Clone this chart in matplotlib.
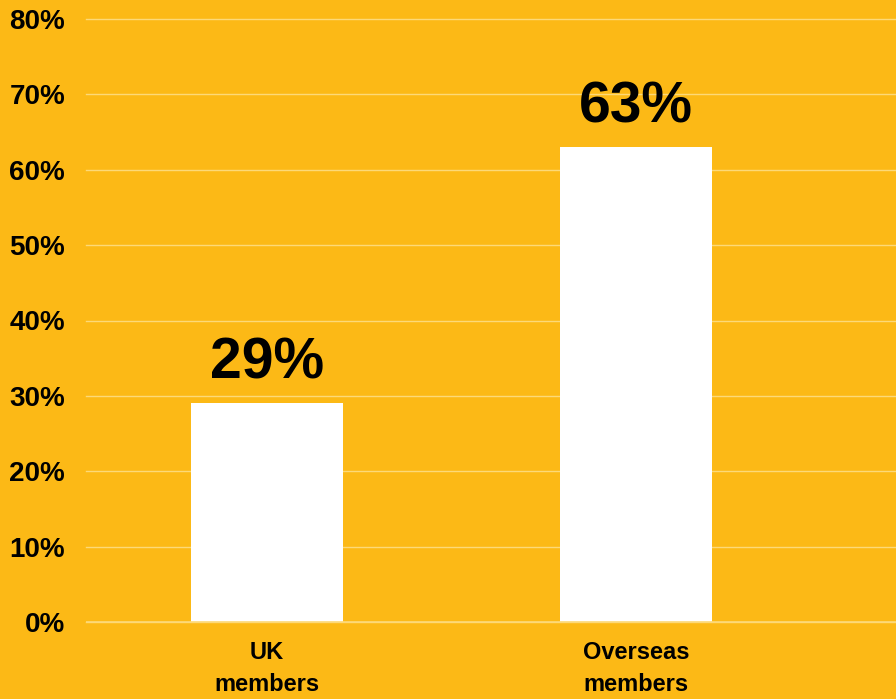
import matplotlib.pyplot as plt
from matplotlib.ticker import FuncFormatter

categories = ["UK\nmembers", "Overseas\nmembers"]
values = [29, 63]
y_ticks = [0, 10, 20, 30, 40, 50, 60, 70, 80]

bg = "#FCB916"
grid_col = "#FDD978"

plt.rcParams["font.family"] = ["Liberation Sans", "DejaVu Sans"]
plt.rcParams["font.weight"] = "bold"

fig = plt.figure(figsize=(8.96, 6.99), dpi=100, facecolor=bg)
ax = fig.add_axes([86 / 896, 1 - 622 / 699, 810 / 896, (622 - 19) / 699])
ax.set_facecolor(bg)

x = list(range(len(categories)))
ax.bar(x, values, width=0.412, color="white", zorder=2)

ax.set_ylim(0, 80)
ax.set_xlim(-0.49, 1.705)
ax.set_yticks(y_ticks)
ax.yaxis.set_major_formatter(FuncFormatter(lambda v, p: f"{v:.0f}%"))
ax.set_xticks(x)
ax.set_xticklabels(categories, fontsize=17, fontweight="bold", linespacing=1.45)
ax.tick_params(axis="y", length=0, pad=15, labelsize=20)
ax.tick_params(axis="x", length=0, pad=14)
for lbl in ax.get_yticklabels():
    lbl.set_fontweight("bold")

ax.grid(axis="y", color=grid_col, linewidth=1.0, zorder=1)
ax.set_axisbelow(True)
ax.axhline(0, color=grid_col, linewidth=1.2, zorder=3)
for gl in ax.get_ygridlines():
    gl.set_clip_on(False)
for s in ax.spines.values():
    s.set_visible(False)

for xi, v in zip(x, values):
    ax.annotate(f"{v}%", (xi, v), xytext=(0, 9), textcoords="offset points",
                ha="center", va="bottom", fontsize=41, fontweight="bold",
                color="black")

fig.savefig("out.png", dpi=100, facecolor=bg)
